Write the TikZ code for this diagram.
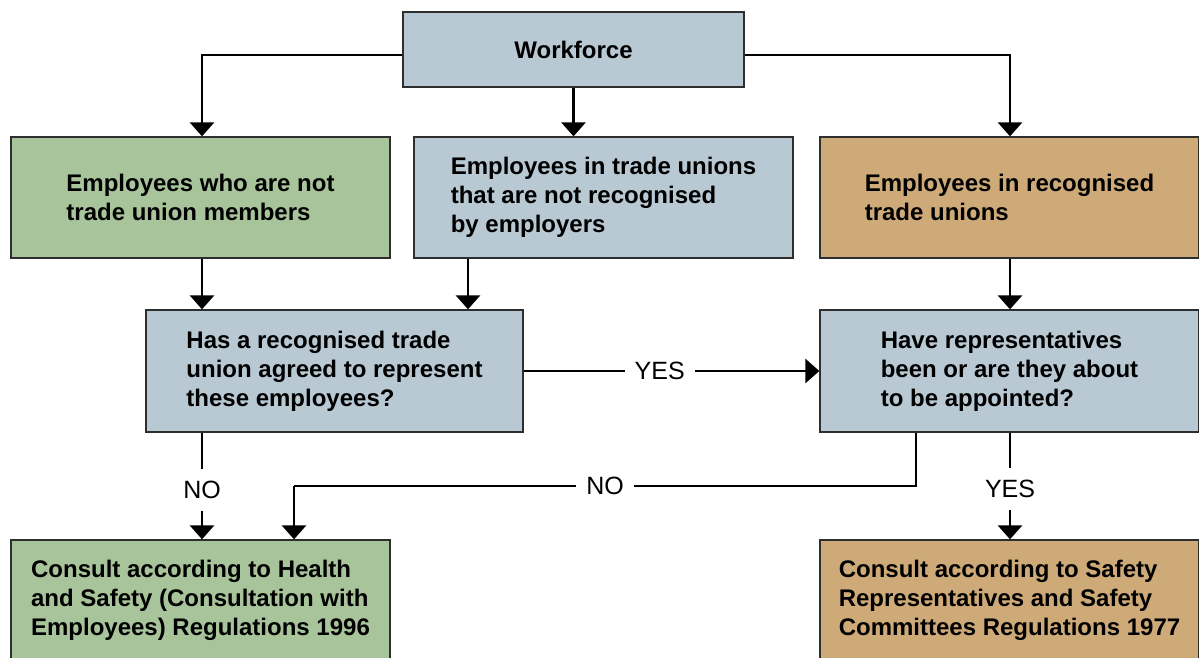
\documentclass[tikz,border=0pt]{standalone}
\usepackage{fontspec}
\setmainfont{Liberation Sans}
\usetikzlibrary{arrows.meta}
\definecolor{bluegray}{HTML}{B8C9D4}
\definecolor{sage}{HTML}{A8C49A}
\definecolor{tan}{HTML}{CFAA79}
\definecolor{edge}{HTML}{2E2E2E}
\begin{document}
\begin{tikzpicture}[x=1pt,y=-1pt,
  box/.style={draw=edge,line width=1.3pt,rectangle,minimum width=379pt,minimum height=121pt,
    align=left,inner sep=0pt,font=\fontsize{24}{29}\selectfont\bfseries},
  arr/.style={line width=2.9pt,-{Triangle[width=24pt,length=14pt]}},
  conn/.style={line width=2.9pt},
  lbl/.style={fill=white,inner xsep=10pt,inner ysep=12pt,font=\fontsize{25}{28}\selectfont}]
\useasboundingbox (0,0) rectangle (1199,657);
\clip (0,0) rectangle (1199,657);
\node[box,fill=bluegray,minimum width=341pt,minimum height=75pt] (wf) at (573.5,49.5) {Workforce};
\node[box,fill=sage] (g1) at (200.5,197.5) {Employees who are not\\trade union members};
\node[box,fill=bluegray] (b2) at (603.5,197.5) {Employees in trade unions\\that are not recognised\\by employers};
\node[box,fill=tan] (t1) at (1009.5,197.5) {Employees in recognised\\trade unions};
\node[box,fill=bluegray,minimum width=377pt,minimum height=122pt] (d1) at (334.5,371) {Has a recognised trade\\union agreed to represent\\these employees?};
\node[box,fill=bluegray,minimum height=122pt] (d2) at (1009.5,371) {Have representatives\\been or are they about\\to be appointed?};
\node[box,fill=sage] (bl) at (200.5,600.5) {Consult according to Health\\and Safety (Consultation with\\Employees) Regulations 1996};
\node[box,fill=tan] (br) at (1009.5,600.5) {Consult according to Safety\\Representatives and Safety\\Committees Regulations 1977};
\coordinate (c1) at (202,55);
\coordinate (c2) at (468,0);
\coordinate (c3) at (1010,55);
\coordinate (n1) at (916,486);
\coordinate (n2) at (294,486);
\draw[arr] (wf.west |- c1) -| (g1.north -| c1);
\draw[arr] (wf.south) -- (wf.south |- b2.north);
\draw[arr] (wf.east |- c3) -| (t1.north -| c3);
\draw[arr] (g1.south -| c1) -- (d1.north -| c1);
\draw[arr] (b2.south -| c2) -- (d1.north -| c2);
\draw[arr] (t1.south -| c3) -- (d2.north -| c3);
\draw[arr] (d1.east) -- node[lbl,pos=0.46]{YES} (d2.west);
\draw[arr] (d1.south -| c1) -- node[lbl,pos=0.54]{NO} (bl.north -| c1);
\draw[conn] (d2.south -| n1) -- (n1) -- node[lbl,pos=0.5]{NO} (n2);
\draw[arr] (n2) -- (bl.north -| n2);
\draw[arr] (d2.south -| c3) -- node[lbl,pos=0.53]{YES} (br.north -| c3);
\end{tikzpicture}
\end{document}
